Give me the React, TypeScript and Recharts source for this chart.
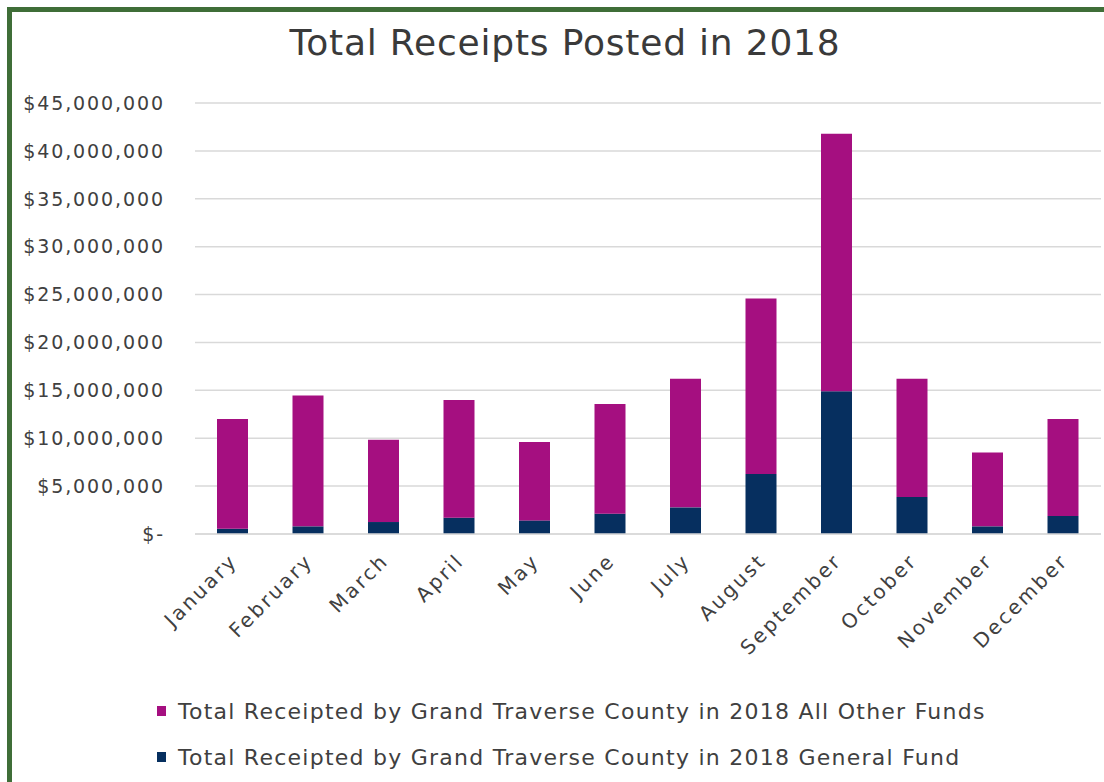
import { BarChart, Bar, XAxis, YAxis, CartesianGrid, Legend } from "recharts";

const months = [
  "January", "February", "March", "April", "May", "June",
  "July", "August", "September", "October", "November", "December",
];
const generalFund = [
  550000, 800000, 1250000, 1700000, 1420000, 2120000,
  2780000, 6260000, 14900000, 3860000, 800000, 1880000,
];
const otherFunds = [
  11450000, 13670000, 8600000, 12300000, 8180000, 11450000,
  13420000, 18340000, 26900000, 12340000, 7720000, 10120000,
];
const yTicks = [0, 5000000, 10000000, 15000000, 20000000, 25000000, 30000000, 35000000, 40000000, 45000000];

const GF_NAME = "Total Receipted by Grand Traverse County in 2018 General Fund";
const OTHER_NAME = "Total Receipted by Grand Traverse County in 2018 All Other Funds";

const data = months.map((m, i) => ({
  month: m,
  general: generalFund[i],
  other: otherFunds[i],
}));

const FONT = "'DejaVu Sans', sans-serif";
const TEXT = "#404040";

const fmtMoney = (v: number) => (v === 0 ? "$-" : "$" + v.toLocaleString("en-US"));

function MonthTick(props: any) {
  const { x, y, payload } = props;
  return (
    <text
      x={x + 6}
      y={y + 20}
      textAnchor="end"
      transform={`rotate(-45, ${x + 6}, ${y + 20})`}
      fill={TEXT}
      fontSize={20}
      fontFamily={FONT}
      letterSpacing={2.5}
    >
      {payload.value}
    </text>
  );
}

function LegendBox() {
  const rows = [
    { name: OTHER_NAME, color: "#a50f80" },
    { name: GF_NAME, color: "#062f5f" },
  ];
  return (
    <div style={{ fontFamily: FONT, fontSize: 22, color: TEXT, letterSpacing: 1.25, whiteSpace: "nowrap" }}>
      {rows.map((r) => (
        <div key={r.name} style={{ height: 46, display: "flex", alignItems: "center" }}>
          <span style={{ width: 9, height: 10, background: r.color, marginRight: 12, display: "inline-block" }} />
          <span>{r.name}</span>
        </div>
      ))}
    </div>
  );
}

export default function App() {
  return (
    <div style={{ position: "fixed", left: 0, top: 0, width: 1104, height: 782, overflow: "hidden", background: "#fff" }}>
      <div
        style={{
          position: "absolute",
          left: 7,
          top: 7,
          width: 1300,
          height: 1000,
          border: "5px solid #3f6e38",
        }}
      />
      <div
        style={{
          position: "absolute",
          left: 0,
          width: 1130,
          top: 22,
          textAlign: "center",
          fontFamily: FONT,
          fontSize: 36,
          letterSpacing: 0.8,
          color: "#3a3a3a",
        }}
      >
        Total Receipts Posted in 2018
      </div>
      <div style={{ position: "absolute", left: 0, top: 0 }}>
        <BarChart width={1104} height={782} data={data} margin={{ top: 103, right: 3, left: 0, bottom: 0 }}>
          <CartesianGrid vertical={false} stroke="#d9d9d9" strokeWidth={1.5} />
          <XAxis
            dataKey="month"
            height={156}
            interval={0}
            tickLine={false}
            axisLine={{ stroke: "#d9d9d9", strokeWidth: 1.5 }}
            tick={<MonthTick />}
          />
          <YAxis
            width={195}
            domain={[0, 45000000]}
            ticks={yTicks}
            tickFormatter={fmtMoney}
            axisLine={false}
            tickLine={false}
            tickSize={0}
            tickMargin={30}
            tick={{ fill: TEXT, fontSize: 19, fontFamily: FONT, letterSpacing: 1.9 }}
          />
          <Legend
            verticalAlign="bottom"
            content={<LegendBox />}
            wrapperStyle={{ left: 157, top: 688, width: 940, height: 92 }}
          />
          <Bar dataKey="general" name={GF_NAME} stackId="a" fill="#062f5f" barSize={31} isAnimationActive={false} />
          <Bar dataKey="other" name={OTHER_NAME} stackId="a" fill="#a50f80" barSize={31} isAnimationActive={false} />
        </BarChart>
      </div>
    </div>
  );
}
